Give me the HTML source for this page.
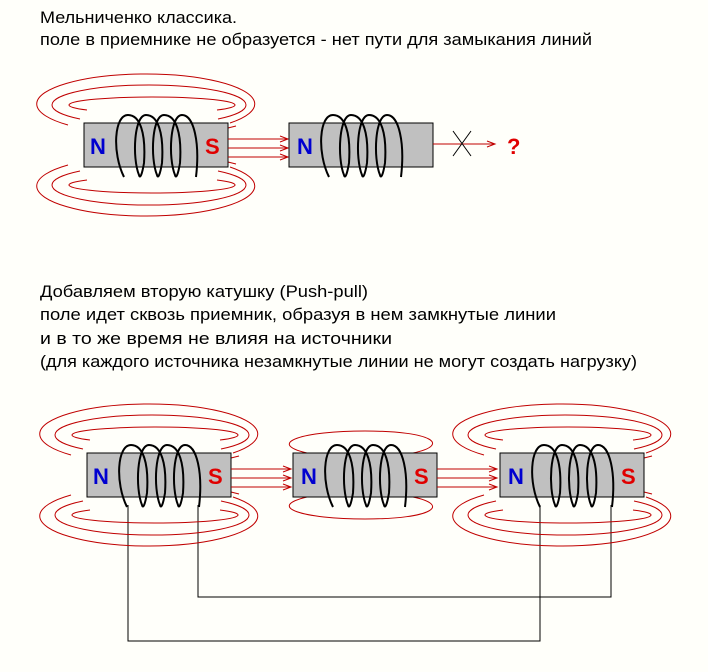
<!DOCTYPE html>
<html><head><meta charset="utf-8"><style>
body{margin:0;background:#fffffa;}
svg{display:block;}
text{font-family:"Liberation Sans",Arial,sans-serif;}
</style></head><body>
<svg width="708" height="672" viewBox="0 0 708 672" xmlns="http://www.w3.org/2000/svg">
<defs>
<g id="coil" fill="none" stroke="#000" stroke-width="2">
<path d="M40 54 C28 30,30 -8,44 -8 C56 -8,62 10,60 40 C58 52,56 56,55 52 C48 35,50 -8,62 -8 C74 -8,80 10,78 40 C76 52,74 56,73 52 C66 35,68 -8,80 -8 C92 -8,98 10,96 40 C94 52,92 56,91 52 C84 35,86 -8,98 -8 C110 -8,116 20,112 54"/>
</g>
<g id="mag">
<rect x="0" y="0" width="144" height="44" fill="#c0c0c0" stroke="#000" stroke-width="1"/>
<use href="#coil"/>
</g>
<g id="fieldT" fill="none" stroke="#c00000" stroke-width="1">
<path d="M-16 2 A109 30 0 1 1 146 0"/>
<path d="M-4 -4 A97 20 0 1 1 134 -4"/>
<path d="M3 -13 A83 8 0 1 1 133 -13"/>
<path d="M144 5 L152 3"/>
</g>
<g id="fieldB" transform="translate(0,44) scale(1,-1)"><use href="#fieldT"/></g>
<g id="arrows" stroke="#c00000" stroke-width="1" fill="none">
<path d="M0 16 H60 M0 25 H60 M0 34 H60"/>
<path d="M52 13 L60 16 L52 19 M52 22 L60 25 L52 28 M52 31 L60 34 L52 37"/>
</g>
</defs>

<text x="40" y="23" font-size="17" textLength="197" lengthAdjust="spacingAndGlyphs">Мельниченко классика.</text>
<text x="40" y="45" font-size="17" textLength="552" lengthAdjust="spacingAndGlyphs">поле в приемнике не образуется - нет пути для замыкания линий</text>

<g transform="translate(84,123)">
<use href="#fieldT"/><use href="#fieldB"/>
<use href="#mag"/>
<text x="6" y="31" font-size="22" font-weight="bold" fill="#0000d0">N</text>
<text x="121" y="31" font-size="22" font-weight="bold" fill="#e00000">S</text>
<use href="#arrows" x="144"/>
</g>
<g transform="translate(289,123)">
<use href="#mag"/>
<text x="8" y="31" font-size="22" font-weight="bold" fill="#0000d0">N</text>
</g>
<path d="M433 144 H495 M487 141 L495 144 L487 147" stroke="#c00000" fill="none"/>
<path d="M453 131 L471 156 M471 131 L453 156" stroke="#000" fill="none"/>
<text x="507" y="154" font-size="22" font-weight="bold" fill="#e00000">?</text>

<text x="40" y="297" font-size="17" textLength="328" lengthAdjust="spacingAndGlyphs">Добавляем вторую катушку (Push-pull)</text>
<text x="40" y="320" font-size="17" textLength="516" lengthAdjust="spacingAndGlyphs">поле идет сквозь приемник, образуя в нем замкнутые  линии</text>
<text x="40" y="344" font-size="17" textLength="352" lengthAdjust="spacingAndGlyphs">и в то же время не влияя на источники</text>
<text x="40" y="367" font-size="17" textLength="597" lengthAdjust="spacingAndGlyphs">(для каждого источника незамкнутые линии не могут создать нагрузку)</text>

<path d="M128 505 V641 H540 V505 M198 505 V597 H611 V505" stroke="#000" fill="none" stroke-width="1"/>

<g transform="translate(87,453)">
<use href="#fieldT"/><use href="#fieldB"/>
<use href="#mag"/>
<text x="6" y="31" font-size="22" font-weight="bold" fill="#0000d0">N</text>
<text x="121" y="31" font-size="22" font-weight="bold" fill="#e00000">S</text>
<use href="#arrows" x="144"/>
</g>
<g transform="translate(293,453)">
<path d="M14 0 C-28 -10,10 -22,72 -22 C140 -22,158 -8,120 0" fill="none" stroke="#c00000"/>
<path d="M14 44 C-28 54,10 66,72 66 C140 66,158 52,120 44" fill="none" stroke="#c00000"/>
<path d="M8 8 L24 3 M8 36 L24 41 M120 3 L136 8 M120 41 L136 36" stroke="#c00000" fill="none"/>
<use href="#mag"/>
<text x="8" y="31" font-size="22" font-weight="bold" fill="#0000d0">N</text>
<text x="121" y="31" font-size="22" font-weight="bold" fill="#e00000">S</text>
<use href="#arrows" x="144"/>
</g>
<g transform="translate(500,453)">
<use href="#fieldT"/><use href="#fieldB"/>
<use href="#mag"/>
<text x="8" y="31" font-size="22" font-weight="bold" fill="#0000d0">N</text>
<text x="121" y="31" font-size="22" font-weight="bold" fill="#e00000">S</text>
</g>
</svg>
</body></html>
